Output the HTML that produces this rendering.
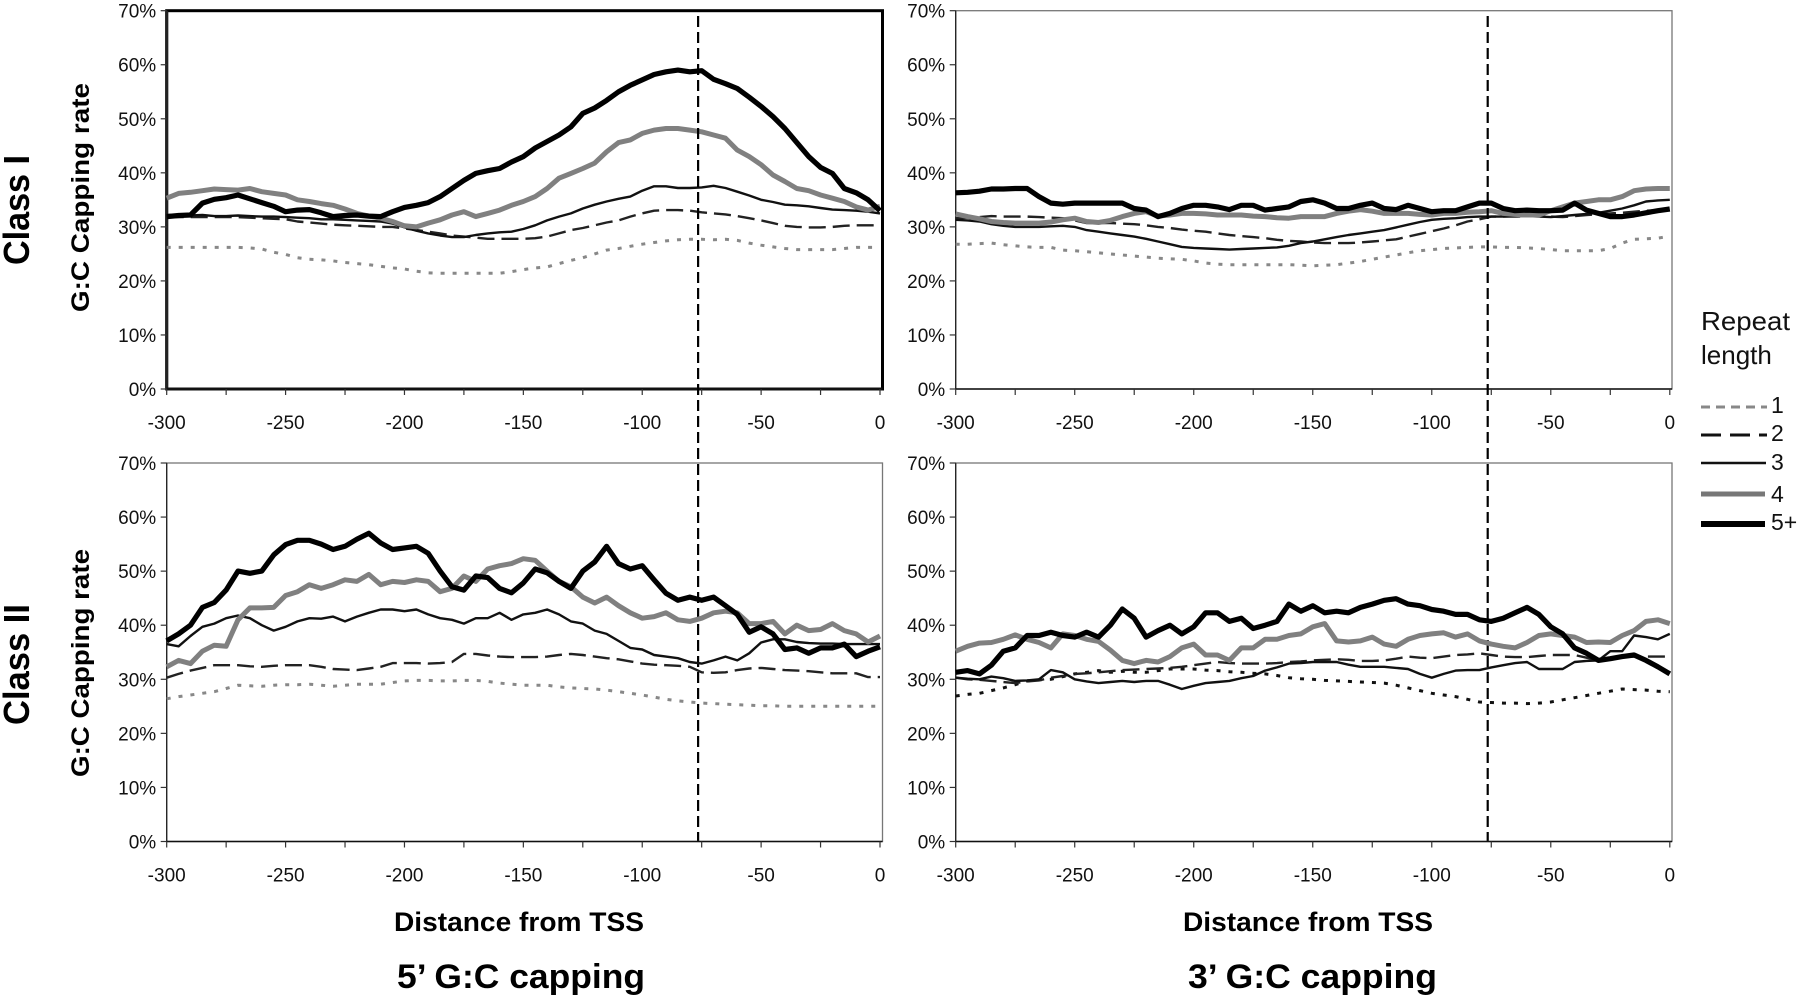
<!DOCTYPE html>
<html lang="en">
<head>
<meta charset="utf-8">
<title>G:C capping rate by distance from TSS</title>
<style>
html,body{margin:0;padding:0;background:#fff;}
svg{display:block;font-family:"Liberation Sans",Arial,sans-serif;}
</style>
</head>
<body>
<svg id="figure" xmlns="http://www.w3.org/2000/svg" width="1800" height="999" viewBox="0 0 1800 999">
  <rect x="0" y="0" width="1800" height="999" fill="#fff"/>
  <g id="panels"></g>

  <text transform="translate(29 265) rotate(-90)" font-size="36" font-weight="bold" textLength="110" lengthAdjust="spacingAndGlyphs" fill="#000">Class I</text>
  <text transform="translate(29 725) rotate(-90)" font-size="36" font-weight="bold" textLength="121" lengthAdjust="spacingAndGlyphs" fill="#000">Class II</text>
  <text transform="translate(89 312) rotate(-90)" font-size="25" font-weight="bold" textLength="229" lengthAdjust="spacingAndGlyphs" fill="#000">G:C Capping rate</text>
  <text transform="translate(89 777) rotate(-90)" font-size="25" font-weight="bold" textLength="228" lengthAdjust="spacingAndGlyphs" fill="#000">G:C Capping rate</text>

  <text x="394" y="931" font-size="26.5" font-weight="bold" textLength="250" lengthAdjust="spacingAndGlyphs" fill="#000">Distance from TSS</text>
  <text x="1183" y="931" font-size="26.5" font-weight="bold" textLength="250" lengthAdjust="spacingAndGlyphs" fill="#000">Distance from TSS</text>
  <text x="397" y="988" font-size="34" font-weight="bold" textLength="248" lengthAdjust="spacingAndGlyphs" fill="#000">5’ G:C capping</text>
  <text x="1188" y="988" font-size="34" font-weight="bold" textLength="249" lengthAdjust="spacingAndGlyphs" fill="#000">3’ G:C capping</text>

  <g>
    <text x="1701" y="330" font-size="26" textLength="89" lengthAdjust="spacingAndGlyphs" fill="#111">Repeat</text>
    <text x="1701" y="364" font-size="26" fill="#111">length</text>
    <g>
      <line x1="1701" x2="1767" y1="407" y2="407" stroke="#888" stroke-width="3" stroke-dasharray="9 6"/>
      <text x="1771" y="413" font-size="23" fill="#111">1</text>
    </g>
    <g>
      <line x1="1701" x2="1767" y1="435" y2="435" stroke="#111" stroke-width="3" stroke-dasharray="20 9"/>
      <text x="1771" y="441" font-size="23" fill="#111">2</text>
    </g>
    <g>
      <line x1="1701" x2="1766" y1="463" y2="463" stroke="#111" stroke-width="2.4"/>
      <text x="1771" y="470" font-size="23" fill="#111">3</text>
    </g>
    <g>
      <line x1="1701" x2="1765" y1="494" y2="494" stroke="#777" stroke-width="5"/>
      <text x="1771" y="502" font-size="23" fill="#111">4</text>
    </g>
    <g>
      <line x1="1701" x2="1765" y1="524" y2="524" stroke="#000" stroke-width="6"/>
      <text x="1771" y="530" font-size="23" fill="#111">5+</text>
    </g>
  </g>
</svg>

<script>
var distances = [
  -300,-295,-290,-285,-280,-275,-270,-265,-260,-255,
  -250,-245,-240,-235,-230,-225,-220,-215,-210,-205,
  -200,-195,-190,-185,-180,-175,-170,-165,-160,-155,
  -150,-145,-140,-135,-130,-125,-120,-115,-110,-105,
  -100,-95,-90,-85,-80,-75,-70,-65,-60,-55,
  -50,-45,-40,-35,-30,-25,-20,-15,-10,-5,
  0];
var xTickValues = [-300,-275,-250,-225,-200,-175,-150,-125,-100,-75,-50,-25,0];
var xTickLabels = ["-300","","-250","","-200","","-150","","-100","","-50","","0"];
var yTickValues = [0,10,20,30,40,50,60,70];
var yTickLabels = ["0%","10%","20%","30%","40%","50%","60%","70%"];
var markerDistance = -76.5;

var classI5Len1 = [
  26.2,26.2,26.2,26.2,26.2,26.2,26.2,26.1,25.9,25.3,
  24.9,24.3,24,23.9,23.7,23.4,23.2,23,22.7,22.4,
  22.2,21.8,21.5,21.4,21.4,21.4,21.4,21.4,21.4,21.7,
  22.1,22.4,22.6,23.2,23.8,24.3,25,25.7,26,26.4,
  26.8,27.1,27.4,27.6,27.7,27.7,27.6,27.7,27.5,27,
  26.6,26.3,26,25.8,25.8,25.8,25.8,26,26.2,26.2,
  26.2];
var classI5Len2 = [
  31.8,31.8,31.8,31.8,31.8,31.8,31.8,31.7,31.6,31.5,
  31.4,31,30.8,30.6,30.4,30.3,30.2,30.1,30,30,
  29.7,29.4,29.1,28.8,28.4,28.2,28,27.8,27.8,27.8,
  27.8,27.9,28.2,28.8,29.4,29.8,30.3,30.8,31.2,31.9,
  32.5,33,33.1,33.1,33,32.7,32.5,32.3,32,31.6,
  31.2,30.7,30.2,30,29.9,29.9,30,30.2,30.3,30.3,
  30.3];
var classI5Len3 = [
  32.2,32.2,32.1,32.2,32,32,32.1,32,31.9,31.9,
  31.8,31.7,31.6,31.4,31.4,31.3,31.2,31.1,31,30.6,
  29.9,29.3,28.8,28.4,28.1,28.1,28.5,28.8,29,29.1,
  29.6,30.3,31.2,31.9,32.5,33.4,34.1,34.7,35.2,35.6,
  36.7,37.5,37.5,37.2,37.2,37.3,37.6,37.2,36.5,35.8,
  35,34.6,34.1,34,33.8,33.5,33.2,33.1,33,32.8,
  32.5];
var classI5Len4 = [
  35.3,36.2,36.4,36.7,37,36.9,36.8,37.1,36.5,36.2,
  35.9,35,34.7,34.3,34,33.3,32.5,32,31.6,31,
  30.2,30,30.7,31.3,32.2,32.8,31.9,32.5,33.1,34,
  34.7,35.6,37.1,39,39.9,40.8,41.8,43.9,45.6,46.1,
  47.3,47.9,48.2,48.2,47.9,47.6,47,46.4,44.2,43,
  41.5,39.6,38.4,37.1,36.7,35.9,35.3,34.7,33.7,33.1,
  33.8];
var classI5Len5 = [
  31.9,32.1,32.2,34.4,35.1,35.4,35.9,35.2,34.5,33.8,
  32.8,33.1,33.2,32.6,31.9,32.1,32.2,32,31.9,32.8,
  33.6,34,34.5,35.6,37.1,38.6,39.9,40.4,40.8,42,
  43,44.6,45.8,47,48.5,51,52,53.4,55,56.2,
  57.2,58.2,58.7,59,58.7,58.9,57.3,56.5,55.6,54,
  52.3,50.4,48.2,45.6,43,41,39.9,37.1,36.3,35,
  33];

var classI3Len1 = [
  26.8,26.8,26.9,27,26.7,26.5,26.3,26.2,26.2,25.7,
  25.6,25.4,25.2,25,24.8,24.6,24.4,24.2,24.1,24,
  23.7,23.3,23.1,23,23,23,23,23,23,22.9,
  22.8,22.9,23,23.3,23.6,24,24.4,24.8,25.2,25.6,
  25.8,26,26.1,26.2,26.3,26.3,26.2,26.2,26.1,26,
  25.8,25.6,25.6,25.6,25.6,26,27,27.7,27.8,27.9,
  28.3];
var classI3Len2 = [
  31.6,31.7,31.8,32,31.9,31.9,31.9,31.8,31.7,31.6,
  31.2,30.7,30.7,30.7,30.6,30.5,30.3,30,29.8,29.5,
  29.3,29.1,28.8,28.5,28.3,28.1,27.9,27.6,27.4,27.3,
  27.1,27,27,27,27.1,27.3,27.5,27.7,28.2,28.7,
  29.2,29.7,30.3,31,31.4,31.9,31.9,31.9,32,32,
  31.9,31.8,32,32.2,32.3,32.5,32.6,32.8,33,33.1,
  33.2];
var classI3Len3 = [
  31.3,31.2,31,30.5,30.2,30,30,30,30.1,30.2,
  30,29.4,29.1,28.8,28.5,28.2,27.8,27.3,26.8,26.3,
  26.1,26,25.9,25.8,25.9,26,26.1,26.2,26.5,27,
  27.3,27.7,28.1,28.5,28.8,29.1,29.4,29.9,30.4,30.9,
  31.3,31.5,31.6,31.8,31.9,31.9,31.9,32,32,31.9,
  31.8,32,32.2,32.4,32.6,33,33.4,34,34.7,34.9,
  35];
var classI3Len4 = [
  32.4,31.9,31.5,31,30.8,30.7,30.7,30.7,30.9,31.3,
  31.6,31,30.8,31.2,31.9,32.5,32.8,32,32.2,32.5,
  32.5,32.4,32.2,32.2,32.2,32,31.9,31.7,31.6,31.9,
  31.9,31.9,32.5,32.9,33.2,32.9,32.5,32.5,32.5,32.3,
  32.2,32.5,32.5,32.7,32.8,33,32.5,32.3,32.2,32.2,
  33,33.7,34.4,34.7,35,35,35.6,36.7,37,37.1,
  37.1];
var classI3Len5 = [
  36.3,36.4,36.6,37,37,37.1,37.1,35.6,34.4,34.2,
  34.4,34.4,34.4,34.4,34.4,33.4,33.1,31.9,32.5,33.4,
  34,34,33.7,33.2,34,34,33.1,33.4,33.7,34.7,
  35,34.4,33.4,33.4,34,34.4,33.4,33.2,34,33.4,
  32.8,33,33,33.7,34.4,34.4,33.4,33,33.1,33,
  33,33.1,34.4,33.1,32.5,31.9,31.9,32.2,32.6,33,
  33.3];

var classII5Len1 = [
  26.4,26.8,27.1,27.4,27.7,28.3,28.9,28.8,28.7,28.9,
  29,29,29.1,28.9,28.7,28.9,29.1,29.1,29.1,29.4,
  29.7,29.8,29.8,29.7,29.7,29.8,29.8,29.6,29.3,29.1,
  28.9,28.9,28.9,28.6,28.4,28.3,28.2,28,27.7,27.4,
  27.1,26.7,26.3,26,25.8,25.6,25.5,25.4,25.3,25.2,
  25.1,25.1,25,25,25,25,25,25,25,25,
  25];
var classII5Len2 = [
  30.3,31,31.6,32.1,32.6,32.6,32.6,32.4,32.3,32.5,
  32.6,32.6,32.6,32.3,31.9,31.8,31.7,32,32.3,33,
  33,33,32.9,33,33.2,34.7,34.7,34.4,34.2,34.1,
  34.1,34.1,34.2,34.5,34.7,34.5,34.2,33.9,33.7,33.3,
  32.9,32.7,32.6,32.5,32.3,31.3,31.2,31.3,31.7,32,
  32.1,31.9,31.7,31.6,31.5,31.3,31.1,31.1,31.1,30.4,
  30.4];
var classII5Len3 = [
  36.5,36.1,38,39.7,40.3,41.3,41.8,41.3,40,39,
  39.7,40.7,41.3,41.2,41.6,40.7,41.6,42.3,42.9,42.9,
  42.6,42.9,42,41.3,41,40.3,41.3,41.3,42.3,41,
  42,42.3,42.9,42,40.7,40.3,39,38.4,37.1,35.8,
  35.5,34.5,34.2,33.9,33.2,32.9,33.5,34.2,33.5,34.8,
  36.8,37.4,37.4,36.9,36.7,36.6,36.6,36.5,36.5,36.5,
  36.5];
var classII5Len4 = [
  32.3,33.5,32.9,35.2,36.3,36.1,41,43.2,43.2,43.3,
  45.5,46.2,47.5,46.8,47.5,48.4,48.1,49.4,47.5,48.1,
  47.9,48.4,48.1,46.2,46.8,49.1,48.1,50.4,51,51.4,
  52.3,52,50,48.1,47.1,45.2,44.1,45.2,43.6,42.3,
  41.3,41.6,42.3,41,40.7,41.3,42.3,42.6,42.3,40.3,
  40.3,40.7,38.4,40,39,39.2,40.3,39,38.4,36.9,
  38];
var classII5Len5 = [
  37.1,38.4,40,43.3,44.2,46.5,50,49.6,50,53,
  54.9,55.7,55.7,55,54,54.6,55.9,57,55.2,54,
  54.3,54.6,53.3,50,47.1,46.5,49.1,48.8,46.8,46,
  47.8,50.4,49.7,48.1,46.8,50,51.7,54.6,51.4,50.4,
  51,48.4,45.9,44.6,45.2,44.6,45.2,43.6,42,38.7,
  39.7,38.4,35.5,35.8,34.8,35.8,35.8,36.5,34.2,35.2,
  36];

var classII3Len1 = [
  26.9,27.2,27.4,27.9,28.4,29,29.7,29.9,30,30.5,
  31,31.3,31.6,31.3,31.5,31.3,31.3,31.6,31.9,31.9,
  31.9,31.7,31.6,31.4,31.3,31.1,31,30.7,30.3,30.1,
  30,29.8,29.7,29.6,29.5,29.4,29.3,28.9,28.4,27.9,
  27.4,27.1,26.8,26.3,25.8,25.7,25.6,25.6,25.5,25.6,
  25.8,26.2,26.6,27,27.4,27.8,28.2,28.1,28,27.8,
  27.7];
var classII3Len2 = [
  30.3,30,29.9,29.7,29.5,29.3,29.6,29.8,30.3,30.6,
  31,31.1,31.3,31.5,31.7,31.8,31.9,32,32.1,32.3,
  32.6,32.9,33.2,33,32.9,32.9,32.9,33,33.2,33.3,
  33.5,33.6,33.7,33.6,33.4,33.4,33.5,33.8,34.2,34,
  33.9,34.2,34.5,34.6,34.8,34.5,34.2,34.1,34.1,34.3,
  34.5,34.5,34.5,34,33.5,33.8,34.2,34.2,34.2,34.2,
  34.2];
var classII3Len3 = [
  30.3,30.1,30,30.5,30.2,29.7,29.8,30,31.7,31.3,
  30,29.6,29.3,29.5,29.7,29.5,29.7,29.7,29,28.2,
  28.8,29.3,29.5,29.7,30.2,30.6,31.6,32.2,32.9,33,
  33.2,33.2,33.2,32.7,32.3,32.3,32.3,32.1,31.9,31,
  30.3,31,31.6,31.7,31.7,32.2,32.6,33,33.2,31.9,
  31.9,31.9,33.2,33.4,33.5,35.2,35.2,38.1,37.8,37.4,
  38.4];
var classII3Len4 = [
  35.2,36.1,36.7,36.8,37.4,38.2,37.4,36.8,35.8,38.4,
  38.1,37.4,37,35.4,33.5,32.9,33.5,33.2,34.2,35.8,
  36.5,34.5,34.5,33.5,35.8,35.8,37.4,37.4,38.1,38.4,
  39.7,40.3,37.1,36.9,37.1,37.8,36.5,36.1,37.4,38.1,
  38.4,38.6,37.8,38.4,37.1,36.5,36.1,35.8,36.8,38.1,
  38.4,38.1,37.8,36.8,36.9,36.8,38.1,39,40.7,41,
  40.3];
var classII3Len5 = [
  31.3,31.6,31,32.6,35.2,35.8,38.1,38.1,38.7,38.1,
  37.8,38.7,37.8,40,43,41.3,37.8,39,40,38.4,
  39.7,42.3,42.3,40.7,41.3,39.4,40,40.7,43.9,42.6,
  43.6,42.3,42.6,42.3,43.3,43.9,44.6,44.9,43.9,43.6,
  42.9,42.6,42,42,41,40.7,41.3,42.3,43.3,42,
  39.7,38.4,35.8,34.8,33.5,33.8,34.2,34.5,33.5,32.3,
  31];

var svgNS = 'http://www.w3.org/2000/svg';
var panelsRoot = document.getElementById('panels');

function make(tag, parent, attrs, text) {
  var el = document.createElementNS(svgNS, tag);
  for (var k in attrs) { el.setAttribute(k, attrs[k]); }
  if (text !== undefined) { el.textContent = text; }
  parent.appendChild(el);
  return el;
}

var seriesStyles = {
  len1: { width: 3, dash: '4 8', order: 0 },
  len2: { color: '#222', width: 2.4, dash: '17 7', order: 1 },
  len3: { color: '#111', width: 2.4, dash: '', order: 2 },
  len4: { color: '#808080', width: 5, dash: '', order: 3 },
  len5: { color: '#000', width: 5.2, dash: '', order: 4 }
};

function drawPanel(name, g, series, len1Color) {
  var group = make('g', panelsRoot, {});
  
  

  function xScale(d) { return g.left + (d + 300) * (g.zero - g.left) / 300; }
  function yScale(v) { return g.bottom - v * (g.bottom - g.top) / 70; }

  var frame = make('rect', group, {
    x: g.left, y: g.top, width: g.right - g.left, height: g.bottom - g.top,
    fill: 'none', stroke: g.frameColor, 'stroke-width': g.frameWidth
  });
  
  

  var leftAxis = make('line', group, { x1: g.left, x2: g.left, y1: g.top, y2: g.bottom, stroke: '#222', 'stroke-width': g.frameWidth });
  
  

  var bottomAxis = make('line', group, { x1: g.left, x2: g.right, y1: g.bottom, y2: g.bottom, stroke: '#111', 'stroke-width': g.frameWidth === 3 ? 3 : 1.5 });
  
  

  yTickValues.forEach(function (v, i) {
    var y = yScale(v);
    var tick = make('line', group, { x1: g.left - 6, x2: g.left, y1: y, y2: y, stroke: '#333', 'stroke-width': 1.2 });
    
    
    var label = make('text', group, { x: g.left - 10.5, y: y + 7, 'font-size': 19, 'text-anchor': 'end', fill: '#111' }, yTickLabels[i]);
    
    
  });

  xTickValues.forEach(function (d, i) {
    var x = xScale(d);
    var tick = make('line', group, { x1: x, x2: x, y1: g.bottom, y2: g.bottom + 6, stroke: '#333', 'stroke-width': 1.2 });
    
    
    if (xTickLabels[i] !== '') {
      var label = make('text', group, { x: x, y: g.bottom + 40, 'font-size': 19, 'text-anchor': 'middle', fill: '#111' }, xTickLabels[i]);
      
      
    }
  });

  ['len1', 'len2', 'len3', 'len4', 'len5'].forEach(function (key) {
    var st = seriesStyles[key];
    var pts = series[key].map(function (v, i) {
      return xScale(distances[i]).toFixed(1) + ',' + yScale(v).toFixed(1);
    }).join(' ');
    var line = make('polyline', group, {
      points: pts, fill: 'none',
      stroke: key === 'len1' ? len1Color : st.color,
      'stroke-width': st.width,
      'stroke-linejoin': 'round'
    });
    if (st.dash) { line.setAttribute('stroke-dasharray', st.dash); }
    
    
  });

  if (g.marker) {
    var mx = xScale(markerDistance);
    var marker = make('line', group, { x1: mx, x2: mx, y1: 16, y2: 841.5, stroke: '#000', 'stroke-width': 2.2, 'stroke-dasharray': '11 5' });
    
    
  }
}

drawPanel('panel-class-1-5-prime',
  { left: 166.7, zero: 880, right: 882.5, top: 10.7, bottom: 389, frameColor: '#000', frameWidth: 3, marker: true },
  { len1: classI5Len1, len2: classI5Len2, len3: classI5Len3, len4: classI5Len4, len5: classI5Len5 }, '#888');
drawPanel('panel-class-1-3-prime',
  { left: 955.7, zero: 1669.8, right: 1672, top: 10.7, bottom: 389, frameColor: '#777', frameWidth: 1.3, marker: true },
  { len1: classI3Len1, len2: classI3Len2, len3: classI3Len3, len4: classI3Len4, len5: classI3Len5 }, '#888');
drawPanel('panel-class-2-5-prime',
  { left: 166.7, zero: 880, right: 882.5, top: 463, bottom: 841.5, frameColor: '#777', frameWidth: 1.3, marker: false },
  { len1: classII5Len1, len2: classII5Len2, len3: classII5Len3, len4: classII5Len4, len5: classII5Len5 }, '#888');
drawPanel('panel-class-2-3-prime',
  { left: 955.7, zero: 1669.8, right: 1672, top: 463, bottom: 841.5, frameColor: '#777', frameWidth: 1.3, marker: false },
  { len1: classII3Len1, len2: classII3Len2, len3: classII3Len3, len4: classII3Len4, len5: classII3Len5 }, '#111');
</script>
</body>
</html>
